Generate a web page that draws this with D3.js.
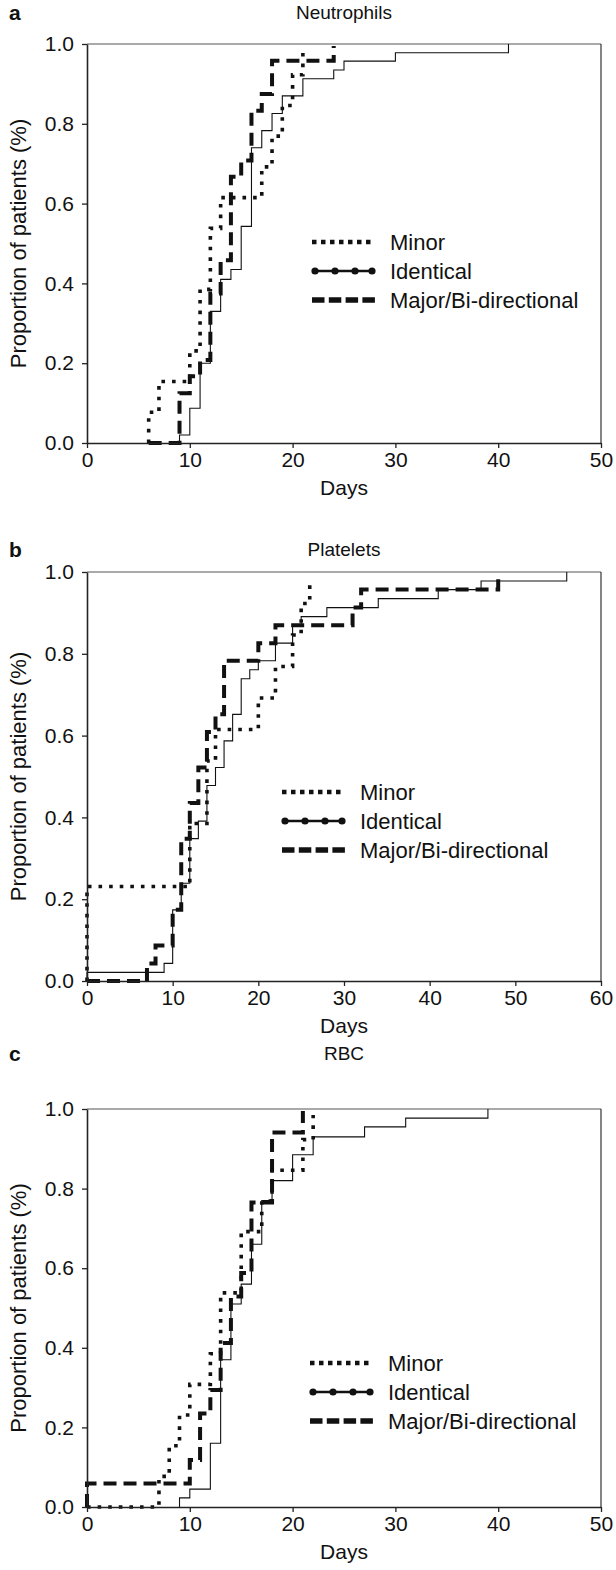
<!DOCTYPE html>
<html>
<head>
<meta charset="utf-8">
<script src="https://cdn.jsdelivr.net/npm/d3@7"></script>
<style>
  body { margin: 0; background: #fff; }
  text { font-family: "Liberation Sans", Arial, Helvetica, sans-serif; fill: #111; }
</style>
</head>
<body>
<script>

// ---- panel a: Neutrophils (day of step, proportion after step) ----
var neutMinorDays  = [6, 6, 7, 10, 11, 12, 13, 17, 18, 19, 20, 21];
var neutMinorProp  = [0, 0.077, 0.154, 0.231, 0.385, 0.538, 0.615, 0.692, 0.769, 0.846, 0.923, 0.985];
var neutIdentDays  = [9, 9, 10, 11, 12, 13, 14, 15, 16, 17, 18, 19, 21, 24, 25, 30, 41];
var neutIdentProp  = [0, 0.02, 0.087, 0.2, 0.33, 0.41, 0.435, 0.543, 0.74, 0.783, 0.826, 0.87, 0.913, 0.935, 0.957, 0.978, 1.0];
var neutMajorDays  = [6, 9, 10, 11, 12, 13, 14, 15, 16, 17, 18, 24];
var neutMajorProp  = [0, 0.125, 0.167, 0.208, 0.375, 0.458, 0.667, 0.708, 0.833, 0.875, 0.958, 0.995];

// ---- panel b: Platelets ----
var pltMinorDays   = [0, 0, 12, 14, 15, 20, 22, 24, 25, 26];
var pltMinorProp   = [0, 0.231, 0.385, 0.538, 0.615, 0.692, 0.769, 0.846, 0.923, 0.985];
var pltIdentDays   = [0, 0, 9, 10, 11, 12, 13, 14, 15, 16, 17, 18, 19, 20, 22, 24, 25, 28, 34, 41, 46, 56];
var pltIdentProp   = [0, 0.021, 0.043, 0.174, 0.239, 0.348, 0.391, 0.478, 0.522, 0.587, 0.652, 0.739, 0.761, 0.783, 0.826, 0.870, 0.891, 0.913, 0.935, 0.957, 0.978, 1.0];
var pltMajorDays   = [0, 7, 8, 10, 11, 12, 13, 14, 15, 16, 20, 22, 31, 32, 48];
var pltMajorProp   = [0, 0.043, 0.087, 0.174, 0.348, 0.435, 0.522, 0.609, 0.652, 0.783, 0.826, 0.870, 0.913, 0.957, 0.985];

// ---- panel c: RBC ----
var rbcMinorDays   = [0, 7, 8, 9, 10, 12, 13, 15, 17, 18, 21, 22];
var rbcMinorProp   = [0, 0.077, 0.154, 0.231, 0.308, 0.385, 0.538, 0.692, 0.769, 0.846, 0.923, 0.985];
var rbcIdentDays   = [9, 9, 10, 12, 13, 14, 15, 16, 17, 18, 20, 22, 27, 31, 39];
var rbcIdentProp   = [0, 0.023, 0.045, 0.16, 0.37, 0.51, 0.56, 0.66, 0.77, 0.82, 0.885, 0.93, 0.955, 0.977, 1.0];
var rbcMajorDays   = [0, 0, 10, 11, 12, 13, 14, 15, 16, 18, 21];
var rbcMajorProp   = [0, 0.059, 0.118, 0.235, 0.294, 0.412, 0.529, 0.588, 0.765, 0.941, 0.995];

var groupNames = ["Minor", "Identical", "Major/Bi-directional"];
var yTicks = [0, 0.2, 0.4, 0.6, 0.8, 1.0];
var xTicksA = [0, 10, 20, 30, 40, 50];
var xTicksB = [0, 10, 20, 30, 40, 50, 60];

function zip(days, prop) {
  return days.map(function(d, i) { return { day: d, p: prop[i] }; });
}

var panels = [
  { letter: "a", title: "Neutrophils", top: 44, bottom: 443, xmax: 50, xticks: xTicksA,
    titleY: 19, legX: 312, legY: 242,
    series: [zip(neutMinorDays, neutMinorProp), zip(neutIdentDays, neutIdentProp), zip(neutMajorDays, neutMajorProp)] },
  { letter: "b", title: "Platelets", top: 572, bottom: 981, xmax: 60, xticks: xTicksB,
    titleY: 556, legX: 282, legY: 792,
    series: [zip(pltMinorDays, pltMinorProp), zip(pltIdentDays, pltIdentProp), zip(pltMajorDays, pltMajorProp)] },
  { letter: "c", title: "RBC", top: 1109, bottom: 1507, xmax: 50, xticks: xTicksA,
    titleY: 1060, legX: 310, legY: 1363,
    series: [zip(rbcMinorDays, rbcMinorProp), zip(rbcIdentDays, rbcIdentProp), zip(rbcMajorDays, rbcMajorProp)] }
];

// line styles: minor dotted, identical thin solid, major thick dashed
var styles = [
  { width: 3.6, dash: "3.6,7" },
  { width: 1.1, dash: null },
  { width: 4, dash: "13,7" }
];

var width = 616, height = 1570;
var left = 87, right = 601;
var font = '"Liberation Sans", Arial, sans-serif';

var svg = d3.select("body")
  .append("svg")
  .attr("width", width)
  .attr("height", height);

panels.forEach(function(pn) {

  var x = d3.scaleLinear().domain([0, pn.xmax]).range([left, right]);
  var y = d3.scaleLinear().domain([0, 1]).range([pn.bottom, pn.top]);

  var g = svg.append("g");

  // frame (top & right)
  g.append("line").attr("x1", left).attr("x2", right).attr("y1", pn.top).attr("y2", pn.top)
    .attr("stroke", "#555").attr("stroke-width", 1.2);
  g.append("line").attr("x1", right).attr("x2", right).attr("y1", pn.top).attr("y2", pn.bottom)
    .attr("stroke", "#333").attr("stroke-width", 1.2);

  // step curves
  var line = d3.line()
    .x(function(d) { return x(d.day); })
    .y(function(d) { return y(d.p); })
    .curve(d3.curveStepAfter);

  // draw identical first so the thick ones sit on top
  var order = [1, 2, 0];
  order.forEach(function(k) {
    g.append("path")
      .datum(pn.series[k])
      .attr("d", line)
      .attr("fill", "none")
      .attr("stroke", "#111")
      .attr("stroke-width", styles[k].width)
      .attr("stroke-dasharray", styles[k].dash);
  });

  // axes
  var yAxis = d3.axisLeft(y).tickValues(yTicks).tickFormat(d3.format(".1f")).tickSizeOuter(0).tickSizeInner(5).tickPadding(8);
  var xAxis = d3.axisBottom(x).tickValues(pn.xticks).tickFormat(d3.format("d")).tickSizeOuter(0).tickSizeInner(5).tickPadding(4);

  var gy = g.append("g").attr("transform", "translate(" + left + ",0)").call(yAxis);
  var gx = g.append("g").attr("transform", "translate(0," + pn.bottom + ")").call(xAxis);
  [gy, gx].forEach(function(a) {
    a.selectAll("path").attr("stroke", "#222").attr("stroke-width", 1.6);
    a.selectAll("line").attr("stroke", "#222").attr("stroke-width", 1.3);
    a.selectAll("text").attr("font-size", 21).attr("fill", "#111").style("font-family", font);
  });

  // titles
  g.append("text").attr("x", 344).attr("y", pn.titleY)
    .attr("text-anchor", "middle").attr("font-size", 19).text(pn.title);
  g.append("text").attr("x", 9).attr("y", pn.titleY + 0.5)
    .attr("font-size", 21).attr("font-weight", "bold").text(pn.letter);
  g.append("text").attr("x", 344).attr("y", pn.bottom + 52)
    .attr("text-anchor", "middle").attr("font-size", 21).text("Days");
  g.append("text")
    .attr("transform", "translate(26," + ((pn.top + pn.bottom) / 2) + ") rotate(-90)")
    .attr("text-anchor", "middle").attr("font-size", 22).text("Proportion of patients (%)");

  // legend
  var lg = g.append("g").attr("transform", "translate(" + pn.legX + "," + pn.legY + ")");
  groupNames.forEach(function(name, k) {
    var yy = k * 29;
    if (k == 0) {
      lg.append("line").attr("x1", 0).attr("x2", 63).attr("y1", yy).attr("y2", yy)
        .attr("stroke", "#111").attr("stroke-width", 4.5).attr("stroke-dasharray", "4.5,4.5");
    } else if (k == 1) {
      lg.append("line").attr("x1", 0).attr("x2", 63).attr("y1", yy).attr("y2", yy)
        .attr("stroke", "#111").attr("stroke-width", 2.4);
      lg.selectAll(null).data([3, 23, 43, 60]).enter().append("circle")
        .attr("cx", function(d) { return d; }).attr("cy", yy).attr("r", 3.6).attr("fill", "#111");
    } else {
      lg.append("line").attr("x1", 0).attr("x2", 63).attr("y1", yy).attr("y2", yy)
        .attr("stroke", "#111").attr("stroke-width", 5.5).attr("stroke-dasharray", "12.5,4.3");
    }
    lg.append("text").attr("x", 78).attr("y", yy + 8).attr("font-size", 22).text(name);
  });
});
</script>
</body>
</html>
